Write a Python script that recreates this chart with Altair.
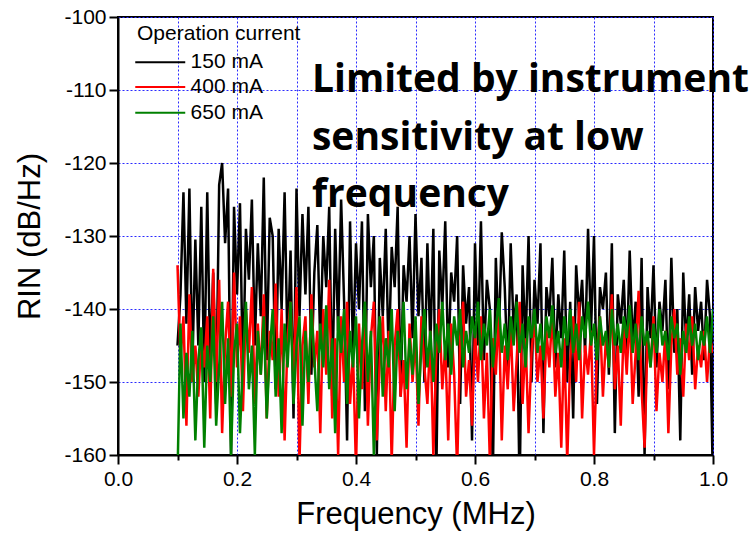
import altair as alt
import pandas as pd

# ---------------- data ----------------
series_names = ["150 mA", "400 mA", "650 mA"]
series_colors = ["#000000", "#ff0000", "#008000"]

freq_start = 0.1
freq_step = 0.005
n_points = 181
freq = [round(freq_start + freq_step * i, 3) for i in range(n_points)]

rin_150 = [
    -145, -138, -124, -142, -123.5, -148, -130.5, -145, -126, -150,
    -124, -148, -135, -153, -123, -120, -131, -123.5, -160, -126,
    -138, -125.5, -150, -129, -136, -125, -145, -131, -141, -122,
    -147, -127.5, -130, -151, -129, -140, -124, -146, -132, -155,
    -123.5, -141, -127, -138, -126, -149, -135, -128.5, -145, -130,
    -137, -126, -152, -129, -143, -125, -139, -158, -128, -146,
    -131, -140, -128, -154, -127, -137, -130, -160, -133, -141,
    -129, -147, -131.5, -137, -126, -152, -134, -139, -130, -144,
    -127, -141, -133, -150, -131, -145, -129, -163, -132, -140,
    -128, -148, -135, -139, -130, -153, -134, -142, -137, -158,
    -131, -145, -128, -147, -136, -140, -163, -133, -144, -129.5,
    -137, -149, -131, -143, -138, -165, -134, -145, -130, -150,
    -136, -142, -131, -157, -137, -141, -133, -148, -138, -144,
    -132, -150, -139, -155, -134, -141, -136, -146, -129, -143,
    -130, -153, -137, -140, -135, -149, -131, -157, -138, -142,
    -136, -147, -132, -145, -139, -152, -133, -160, -137, -144,
    -134, -148, -139, -143, -136, -151, -133, -146, -140, -158,
    -135, -145, -138, -149, -137, -143, -139, -147, -136, -141,
    -165,
]

rin_400 = [
    -134, -147, -141, -156, -138, -150, -145, -152, -144, -148,
    -141, -155, -134.5, -150, -136, -157, -145, -139, -152, -135,
    -148, -141, -154, -140, -146, -137, -153, -142, -149, -138,
    -155, -143, -147, -136.5, -152, -140, -158, -144, -139, -150,
    -137, -161, -145, -141, -153, -138, -148, -143, -157, -140,
    -149, -136, -155, -144, -160, -141, -150, -139, -153, -146,
    -162, -142, -151, -140, -156, -144, -139, -158, -147, -141,
    -154, -143, -161, -145, -140, -152, -147, -159, -142, -150,
    -144, -156, -141, -148, -153, -143, -160, -146, -140, -151,
    -145, -158, -142, -149, -162, -144, -139, -152, -147, -156,
    -143, -150, -141, -155, -146, -161, -144, -149, -140, -158,
    -145, -151, -142, -154, -147, -139, -153, -144, -157, -146,
    -141, -150, -145, -155, -143, -148, -140, -152, -146, -159,
    -144, -161, -147, -141, -150, -139, -155, -145, -149, -143,
    -160, -146, -141, -152, -144, -148, -138, -151, -145, -156,
    -142, -149, -140, -153, -146, -137.5, -151, -159, -144, -148,
    -141, -154, -146, -150, -143, -157, -145, -140, -149, -144,
    -152, -142, -147, -141, -151, -145, -148, -143, -150, -144,
    -146,
]

rin_650 = [
    -163, -142, -155, -146, -152, -143, -158, -147, -142.5, -159,
    -145, -150, -141, -156, -148, -139, -153, -144, -160, -146,
    -142, -157, -147, -139, -151, -145, -160, -143, -149, -141,
    -155, -146, -140, -152, -144, -157, -142, -148, -139, -153,
    -145, -141, -156, -143, -150, -140, -147, -154, -142, -148,
    -139.5, -151, -144, -157, -141, -146, -140, -153, -143, -148,
    -141, -155, -145, -139, -150, -143, -160, -146, -141, -152,
    -144, -148, -140, -154, -143, -147, -139, -151, -144, -149,
    -141, -153, -145, -140, -148, -143, -150, -142, -146, -139,
    -147, -142, -149, -141, -145, -140, -148, -143, -146, -141,
    -144, -139, -147, -142, -145, -140, -148, -143, -138.5, -146,
    -142, -147, -141, -145, -139, -146, -142, -148, -141, -144,
    -140, -146, -142, -147, -141, -144, -139.5, -146, -143, -148,
    -141, -145, -140, -146, -142, -147, -141, -144, -139, -145,
    -142, -147, -141, -145, -143, -148, -140, -145, -142, -146,
    -141, -144, -139.5, -146, -142, -147, -141, -145, -143, -148,
    -142, -146, -140, -145, -143, -147, -141, -144, -142, -149,
    -143, -146, -141, -145, -142, -147, -143, -145, -141, -146,
    -140,
]

x_ticks = [0.0, 0.1, 0.2, 0.3, 0.4, 0.5, 0.6, 0.7, 0.8, 0.9, 1.0]
y_ticks = [-160, -155, -150, -145, -140, -135, -130, -125, -120, -115, -110, -105, -100]

legend_title = "Operation current"
annotation_lines = ["Limited by instrument", "sensitivity at low", "frequency"]

# ---------------- tables ----------------
rows = []
for name, vals in zip(series_names, [rin_150, rin_400, rin_650]):
    for f, v in zip(freq, vals):
        rows.append({"f": f, "v": v, "s": name})
df = pd.DataFrame(rows)

# legend / annotation placement (in data coordinates)
leg_x0, leg_x1, leg_tx = 0.029, 0.113, 0.122
leg_ys = [-106.2, -109.6, -113.1]
leg_df = pd.DataFrame({"s": series_names, "c": series_colors,
                       "x0": [leg_x0] * 3, "x1": [leg_x1] * 3, "tx": [leg_tx] * 3,
                       "y": leg_ys})
leg_title_df = pd.DataFrame({"t": [legend_title], "x": [0.032], "y": [-102.3]})
ann_df = pd.DataFrame({"t": annotation_lines, "x": [0.326] * 3,
                       "y": [-108.6, -116.6, -124.4]})

FONT = "Liberation Sans"
GRID = "#2a2aff"

xscale = alt.Scale(domain=[0, 1], nice=False, zero=False)
yscale = alt.Scale(domain=[-160, -100], nice=False, zero=False)

xaxis = alt.Axis(
    values=x_ticks, grid=True, gridColor=GRID, gridDash=[2, 2], gridWidth=1,
    domainColor="black", domainWidth=2, tickColor="black", tickWidth=2,
    tickSize={"condition": {"test": "round(datum.value*10) % 2 === 0", "value": 9}, "value": 5},
    labelExpr="round(datum.value*10) % 2 === 0 ? format(datum.value, '.1f') : ''",
    labelFont=FONT, labelFontSize=21, labelColor="black", labelPadding=4,
    labelFlush=False, labelOverlap=False,
    title="Frequency (MHz)", titleFont=FONT, titleFontSize=31,
    titleFontWeight="normal", titleColor="black", titlePadding=10,
)
yaxis = alt.Axis(
    values=y_ticks, grid=True, gridColor=GRID, gridDash=[2, 2], gridWidth=1,
    domainColor="black", domainWidth=2, tickColor="black", tickWidth=2,
    tickSize={"condition": {"test": "datum.value % 10 === 0", "value": 9}, "value": 5},
    labelExpr="datum.value % 10 === 0 ? '-' + abs(datum.value) : ''",
    labelFont=FONT, labelFontSize=21, labelColor="black", labelPadding=3,
    labelFlush=False, labelOverlap=False,
    title="RIN (dB/Hz)", titleFont=FONT, titleFontSize=31,
    titleFontWeight="normal", titleColor="black", titlePadding=17,
)

lines = alt.Chart(df).mark_line(strokeWidth=2.5, clip=True).encode(
    x=alt.X("f:Q", scale=xscale, axis=xaxis),
    y=alt.Y("v:Q", scale=yscale, axis=yaxis),
    color=alt.Color("s:N", scale=alt.Scale(domain=series_names, range=series_colors), legend=None),
)

leg_rules = alt.Chart(leg_df).mark_rule(strokeWidth=2).encode(
    x=alt.X("x0:Q", scale=xscale), x2="x1:Q",
    y=alt.Y("y:Q", scale=yscale),
    color=alt.Color("c:N", scale=None),
)
leg_text = alt.Chart(leg_df).mark_text(align="left", baseline="middle", font=FONT,
                                       fontSize=21, color="black").encode(
    x=alt.X("tx:Q", scale=xscale), y=alt.Y("y:Q", scale=yscale), text="s:N")
leg_title_text = alt.Chart(leg_title_df).mark_text(align="left", baseline="middle", font=FONT,
                                                   fontSize=21, color="black").encode(
    x=alt.X("x:Q", scale=xscale), y=alt.Y("y:Q", scale=yscale), text="t:N")
ann_text = alt.Chart(ann_df).mark_text(align="left", baseline="middle", font="Open Sans",
                                       fontWeight="bold", fontSize=39, color="black").encode(
    x=alt.X("x:Q", scale=xscale), y=alt.Y("y:Q", scale=yscale), text="t:N")

chart = alt.layer(lines, leg_rules, leg_text, leg_title_text, ann_text).properties(
    width=595, height=438,
    padding={"left": 118, "top": 17, "right": 43, "bottom": 88},
    autosize="none",
    background="white",
).configure_view(stroke="black", strokeWidth=2)

chart.save("out.html", embed_options={"renderer": "svg", "actions": False})
